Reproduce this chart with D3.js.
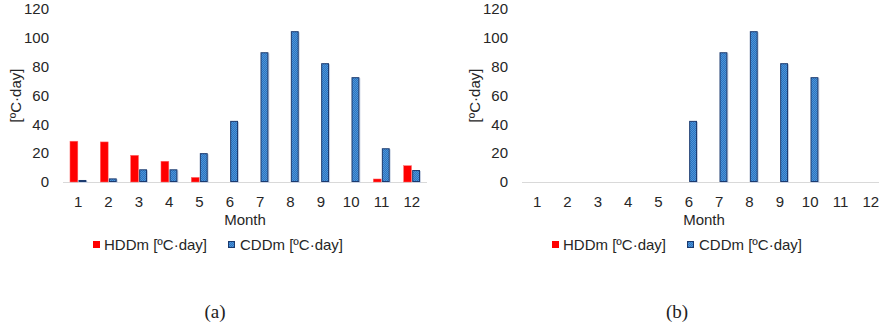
<!DOCTYPE html>
<html>
<head>
<meta charset="utf-8">
<script src="https://cdn.jsdelivr.net/npm/d3@7"></script>
<style>
  body { margin: 0; background: #fff; }
  svg { display: block; }
</style>
</head>
<body>
<svg id="chart" width="879" height="333"></svg>
<script>
// Chart data.
const months = ["1", "2", "3", "4", "5", "6", "7", "8", "9", "10", "11", "12"];
const hddA = [28.3, 27.8, 18.5, 14.4, 3.2, 0, 0, 0, 0, 0, 2.1, 11.3];
const cddA = [1.4, 2.5, 8.8, 8.8, 20.0, 42.4, 90.0, 104.6, 82.4, 72.7, 23.4, 8.3];
const hddB = [0, 0, 0, 0, 0, 0, 0, 0, 0, 0, 0, 0];
const cddB = [0, 0, 0, 0, 0, 42.4, 90.0, 104.6, 82.4, 72.7, 0, 0];
const yTicks = [0, 20, 40, 60, 80, 100, 120];
const seriesNames = ["HDDm [ºC·day]", "CDDm [ºC·day]"];
const panels = [
  { caption: "(a)", hdd: hddA, cdd: cddA, x0: 63, x1: 427, capX: 215 },
  { caption: "(b)", hdd: hddB, cdd: cddB, x0: 522, x1: 886, capX: 677 }
];

const svg = d3.select("#chart");
const font = "'Liberation Sans', Arial, sans-serif";
const fs = 15;

// Dotted blue fill for the CDD bars.
const defs = svg.append("defs");
const pat = defs.append("pattern")
  .attr("id", "cddFill")
  .attr("width", 2).attr("height", 2)
  .attr("patternUnits", "userSpaceOnUse");
pat.append("rect").attr("width", 2).attr("height", 2).attr("fill", "#2b74c0");
pat.append("rect").attr("width", 1).attr("height", 1).attr("fill", "#4f94d8");
pat.append("rect").attr("x", 1).attr("y", 1).attr("width", 1).attr("height", 1).attr("fill", "#4f94d8");

const y = d3.scaleLinear().domain([0, 120]).range([182, 9]);

function drawPanel(p) {
  const g = svg.append("g");

  const x = d3.scaleBand().domain(months).range([p.x0, p.x1]).paddingInner(0.46).paddingOuter(0.23);
  const xs = d3.scaleBand().domain(["hdd", "cdd"]).range([0, x.bandwidth()]).paddingInner(0.08);

  // y tick labels
  g.selectAll(".ytick")
    .data(yTicks).enter()
    .append("text")
    .attr("x", p.x0 - 14)
    .attr("y", d => y(d))
    .attr("dy", "0.35em")
    .attr("text-anchor", "end")
    .attr("font-family", font)
    .attr("font-size", fs)
    .attr("fill", "#262626")
    .text(d => d);

  // y axis title
  g.append("text")
    .attr("transform", "translate(" + (p.x0 - 42) + "," + y(60) + ") rotate(-90)")
    .attr("text-anchor", "middle")
    .attr("font-family", font)
    .attr("font-size", fs)
    .attr("fill", "#262626")
    .text("[ºC·day]");

  // baseline
  g.append("line")
    .attr("x1", p.x0).attr("x2", p.x1)
    .attr("y1", y(0) + 0.5).attr("y2", y(0) + 0.5)
    .attr("stroke", "#d9d9d9")
    .attr("stroke-width", 1);

  const rows = months.map((m, i) => ({ m: m, hdd: p.hdd[i], cdd: p.cdd[i] }));

  // HDD bars
  g.selectAll(".hdd")
    .data(rows.filter(d => d.hdd > 0)).enter()
    .append("rect")
    .attr("x", d => x(d.m) + xs("hdd"))
    .attr("y", d => y(d.hdd))
    .attr("width", xs.bandwidth())
    .attr("height", d => y(0) - y(d.hdd))
    .attr("fill", "#ff0000")
    .attr("stroke", "#ff6a6a")
    .attr("stroke-width", 0.5);

  // CDD bar shadows
  g.selectAll(".cddShadow")
    .data(rows.filter(d => d.cdd > 0)).enter()
    .append("rect")
    .attr("x", d => x(d.m) + xs("cdd") + 1)
    .attr("y", d => y(d.cdd) + 1)
    .attr("width", xs.bandwidth())
    .attr("height", d => y(0) - y(d.cdd))
    .attr("fill", "#c9d2e3");

  // CDD bars
  g.selectAll(".cdd")
    .data(rows.filter(d => d.cdd > 0)).enter()
    .append("rect")
    .attr("x", d => x(d.m) + xs("cdd") + 0.5)
    .attr("y", d => y(d.cdd) + 0.5)
    .attr("width", xs.bandwidth() - 1)
    .attr("height", d => Math.max(0, y(0) - y(d.cdd) - 1))
    .attr("fill", "url(#cddFill)")
    .attr("stroke", "#1c3a6e")
    .attr("stroke-width", 1);

  // x tick labels
  g.selectAll(".xtick")
    .data(months).enter()
    .append("text")
    .attr("x", d => x(d) + x.bandwidth() / 2)
    .attr("y", 207)
    .attr("text-anchor", "middle")
    .attr("font-family", font)
    .attr("font-size", fs)
    .attr("fill", "#262626")
    .text(d => d);

  const cx = (p.x0 + 427 - 63 + p.x0) / 2;

  g.append("text")
    .attr("x", cx)
    .attr("y", 225)
    .attr("text-anchor", "middle")
    .attr("font-family", font)
    .attr("font-size", fs)
    .attr("fill", "#262626")
    .text("Month");

  // legend
  const lx = cx - 152;
  const leg = g.append("g").attr("transform", "translate(" + lx + ",241)");
  leg.append("rect").attr("x", 0).attr("y", 0).attr("width", 7).attr("height", 7).attr("fill", "#ff0000");
  leg.append("text").attr("x", 11).attr("y", 9)
    .attr("font-family", font).attr("font-size", fs).attr("fill", "#262626")
    .text(seriesNames[0]);
  leg.append("rect").attr("x", 135.5).attr("y", 0.5).attr("width", 6).attr("height", 6)
    .attr("fill", "url(#cddFill)").attr("stroke", "#1c3a6e").attr("stroke-width", 1);
  leg.append("text").attr("x", 147).attr("y", 9)
    .attr("font-family", font).attr("font-size", fs).attr("fill", "#262626")
    .text(seriesNames[1]);

  // caption
  svg.append("text")
    .attr("x", p.capX)
    .attr("y", 318)
    .attr("text-anchor", "middle")
    .attr("font-family", "'Liberation Serif', 'DejaVu Serif', serif")
    .attr("font-size", 19)
    .attr("fill", "#222")
    .text(p.caption);
}

panels.forEach(drawPanel);
</script>
</body>
</html>
